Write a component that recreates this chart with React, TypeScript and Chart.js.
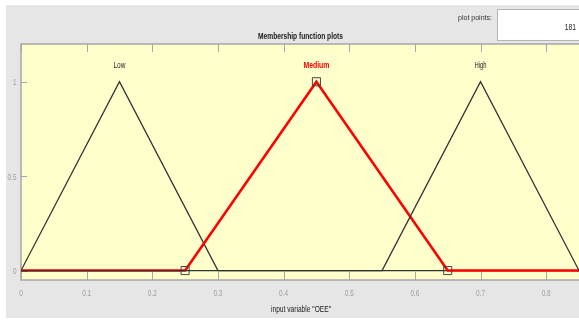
import React, { useEffect, useRef } from "react";
import { Chart, registerables } from "chart.js";

Chart.register(...registerables);

// ---- data ----
const lowX = [0, 0.15, 0.3, 1];
const lowY = [0, 1, 0, 0];
const medX = [0, 0.25, 0.45, 0.65, 1];
const medY = [0, 0, 1, 0, 0];
const medMarkers = [false, true, true, true, false];
const highX = [0, 0.55, 0.7, 0.85, 1];
const highY = [0, 0, 1, 0, 0];
const mfNames = ["Low", "Medium", "High"];
const mfPeaks = [0.15, 0.45, 0.7];
const xTicks = [0, 0.1, 0.2, 0.3, 0.4, 0.5, 0.6, 0.7, 0.8];
const xTickLabels = ["0", "0.1", "0.2", "0.3", "0.4", "0.5", "0.6", "0.7", "0.8"];
const yTicks = [0, 0.5, 1];
const yTickLabels = ["0", "0.5", "1"];
const chartTitle = "Membership function plots";
const xTitle = 'input variable "OEE"';
const plotPointsLabel = "plot points:";
const plotPointsValue = "181";

const FONT = "'Liberation Sans', Arial, sans-serif";

function drawText(
  ctx: CanvasRenderingContext2D,
  s: string,
  x: number,
  y: number,
  size: number,
  color: string,
  align: CanvasTextAlign,
  opts: { bold?: boolean; width?: number; sx?: number } = {}
) {
  ctx.save();
  ctx.font = `${opts.bold ? "bold " : ""}${size}px ${FONT}`;
  ctx.fillStyle = color;
  ctx.textAlign = align;
  ctx.textBaseline = "alphabetic";
  let sx = opts.sx ?? 1;
  if (opts.width) {
    const w = ctx.measureText(s).width;
    sx = opts.width / w;
  }
  ctx.translate(x, y);
  ctx.scale(sx, 1);
  ctx.fillText(s, 0, 0);
  ctx.restore();
}

const framePlugin = {
  id: "matlabFrame",
  beforeDraw(chart: any) {
    const { ctx, chartArea: a } = chart;
    ctx.save();
    ctx.fillStyle = "#ffffff";
    ctx.fillRect(0, 0, chart.width, chart.height);
    ctx.fillStyle = "#e6e6e6";
    ctx.fillRect(6, 5, chart.width - 6, 313);
    // plot points box
    ctx.fillStyle = "#ffffff";
    ctx.fillRect(497, 9, 90, 32);
    ctx.strokeStyle = "#b4b4b4";
    ctx.lineWidth = 1;
    ctx.strokeRect(497.5, 9.5, 90, 31);
    drawText(ctx, plotPointsLabel, 475, 19.5, 8, "#333", "center", { width: 34 });
    drawText(ctx, plotPointsValue, 576, 30, 9, "#222", "right", { sx: 0.75 });
    drawText(ctx, chartTitle, 300.5, 38.5, 9, "#1a1a1a", "center", { bold: true, width: 85 });
    // axes background
    ctx.fillStyle = "#ffffcc";
    ctx.fillRect(a.left, a.top, a.right - a.left, a.bottom - a.top);
    ctx.restore();
  },
  beforeDatasetsDraw(chart: any) {
    const { ctx, chartArea: a, scales } = chart;
    const xs = scales.x;
    const ys = scales.y;
    ctx.save();
    ctx.strokeStyle = "#a6a6a6";
    ctx.lineWidth = 1.5;
    ctx.beginPath();
    ctx.moveTo(a.right + 2, a.top);
    ctx.lineTo(a.left, a.top);
    ctx.lineTo(a.left, a.bottom);
    ctx.lineTo(a.right + 2, a.bottom);
    ctx.stroke();
    ctx.lineWidth = 1;
    ctx.beginPath();
    xTicks.forEach((v) => {
      const px = Math.round(xs.getPixelForValue(v)) + 0.5;
      ctx.moveTo(px, a.bottom);
      ctx.lineTo(px, a.bottom - 8);
      ctx.moveTo(px, a.top);
      ctx.lineTo(px, a.top + 8);
    });
    yTicks.forEach((v) => {
      const py = Math.round(ys.getPixelForValue(v)) + 0.5;
      ctx.moveTo(a.left, py);
      ctx.lineTo(a.left + 6, py);
    });
    ctx.stroke();
    ctx.restore();
  },
  afterDatasetsDraw(chart: any) {
    const { ctx, chartArea: a, scales } = chart;
    const xs = scales.x;
    const ys = scales.y;
    xTicks.forEach((v, i) => {
      drawText(ctx, xTickLabels[i], xs.getPixelForValue(v), 296, 9, "#a0a0a0", "center", { sx: 0.72 });
    });
    yTicks.forEach((v, i) => {
      drawText(ctx, yTickLabels[i], 16.5, ys.getPixelForValue(v) + 3.5, 9, "#a0a0a0", "right", { sx: 0.72 });
    });
    const labelY = ys.getPixelForValue(1.075);
    drawText(ctx, mfNames[0], xs.getPixelForValue(mfPeaks[0]), labelY, 8.5, "#222", "center", { width: 12 });
    drawText(ctx, mfNames[1], xs.getPixelForValue(mfPeaks[1]), labelY, 8.5, "#ff0000", "center", { bold: true, width: 26 });
    drawText(ctx, mfNames[2], xs.getPixelForValue(mfPeaks[2]), labelY, 8.5, "#222", "center", { width: 12 });
    drawText(ctx, xTitle, 301, 312, 9, "#1a1a1a", "center", { width: 60 });
    void a;
  },
};

export default function App() {
  const ref = useRef<HTMLCanvasElement | null>(null);
  useEffect(() => {
    document.body.style.margin = "0";
    const canvas = ref.current;
    if (!canvas) return;
    const toPts = (xs: number[], ys: number[]) => xs.map((x, i) => ({ x, y: ys[i] }));
    const chart = new Chart(canvas, {
      type: "scatter",
      data: {
        datasets: [
          {
            label: mfNames[2],
            data: toPts(highX, highY),
            showLine: true,
            borderColor: "#333333",
            borderWidth: 1.3,
            pointRadius: 0,
            order: 0,
          },
          {
            label: mfNames[1],
            data: toPts(medX, medY),
            showLine: true,
            borderColor: "#ff0000",
            borderWidth: 2.6,
            pointRadius: medMarkers.map((m) => (m ? 5.7 : 0)),
            pointStyle: "rect",
            pointBorderColor: "#444444",
            pointBackgroundColor: "rgba(0,0,0,0)",
            pointBorderWidth: 1,
            order: 1,
          },
          {
            label: mfNames[0],
            data: toPts(lowX, lowY),
            showLine: true,
            borderColor: "#333333",
            borderWidth: 1.3,
            pointRadius: 0,
            order: 2,
          },
        ] as any,
      },
      options: {
        responsive: false,
        animation: false,
        devicePixelRatio: 1,
        layout: { padding: { left: 21, top: 44, right: 0, bottom: 40 } },
        scales: {
          x: { type: "linear", min: 0, max: 0.85, display: false },
          y: { type: "linear", min: -0.05, max: 1.2, display: false },
        },
        plugins: {
          legend: { display: false },
          tooltip: { enabled: false },
        },
        events: [],
      },
      plugins: [framePlugin],
    });
    return () => chart.destroy();
  }, []);
  return <canvas ref={ref} width={579} height={320} style={{ display: "block" }} />;
}
